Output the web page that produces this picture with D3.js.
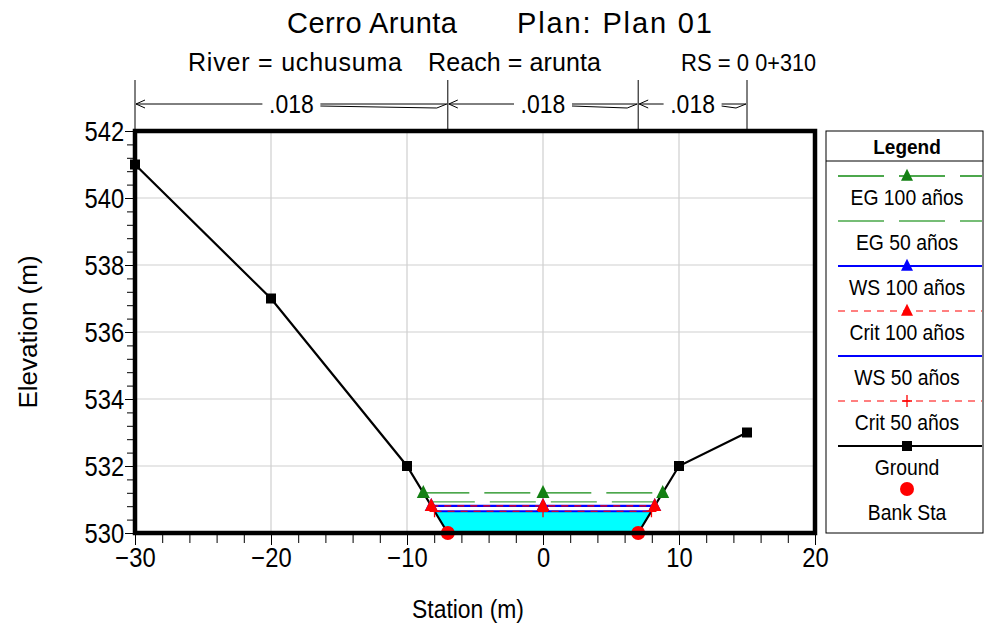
<!DOCTYPE html>
<html>
<head>
<meta charset="utf-8">
<script src="https://cdn.jsdelivr.net/npm/d3@7"></script>
<style>
  html, body { margin: 0; padding: 0; background: #fff; }
  svg { display: block; font-family: "Liberation Sans", Arial, sans-serif; }
</style>
</head>
<body>
<svg id="chart" width="985" height="628"></svg>
<script>
// Cross section geometry (station, elevation)
const station = [-30, -20, -10, -7, 7, 10, 15];
const groundElev = [541, 537, 532, 530, 530, 532, 533];
const bankStations = [-7, 7];

// Manning's n regions
const nBreaks = [-30, -7, 7, 15];
const nValues = [".018", ".018", ".018"];

// Water surface profiles
const profileNames = ["EG 100 años", "EG 50 años", "WS 100 años", "Crit 100 años", "WS 50 años", "Crit 50 años"];
const profileElev = [531.20, 530.93, 530.81, 530.81, 530.65, 530.65];
const fillProfile = "WS 50 años";

// Axis ticks
const xTicks = [-30, -20, -10, 0, 10, 20];
const yTicks = [530, 532, 534, 536, 538, 540, 542];

const styles = {
  "EG 100 años":   { color: "#128a12", width: 1.3, dash: "46,15", marker: "triangle", mcolor: "#138013" },
  "EG 50 años":    { color: "#4aa84a", width: 1.3, dash: "46,15", marker: null },
  "WS 100 años":   { color: "#0000ff", width: 2.2, dash: null, marker: "triangle", mcolor: "#0000ff" },
  "Crit 100 años": { color: "#ff0000", width: 1.2, dash: "7,6", marker: "triangle", mcolor: "#ff0000" },
  "WS 50 años":    { color: "#0000ff", width: 2.2, dash: null, marker: null },
  "Crit 50 años":  { color: "#ff0000", width: 1.2, dash: "7,6", marker: "plus", mcolor: "#ff0000" }
};

const svg = d3.select("#chart");
const x = d3.scaleLinear().domain([-30, 20]).range([135, 815]);
const y = d3.scaleLinear().domain([530, 542]).range([533, 131]);
const ground = station.map((s, i) => ({ s, z: groundElev[i] }));

// Narrow-set text: the glyphs are slightly compressed horizontally
function label(g, px, py, str, size, anchor, opt = {}) {
  const t = g.append("text")
    .attr("transform", `translate(${px},${py}) scale(${opt.sx || 1},1)` + (opt.rot ? ` rotate(${opt.rot})` : ""))
    .attr("text-anchor", anchor || "middle")
    .style("font-size", size + "px")
    .attr("fill", "#000")
    .text(str);
  if (opt.bold) t.style("font-weight", "bold");
  if (opt.len) t.attr("textLength", opt.len).attr("lengthAdjust", "spacing");
  return t;
}

// Where a horizontal water level meets the ground on each side of the channel
function waterEdges(z) {
  const mid = (bankStations[0] + bankStations[1]) / 2;
  let left = null, right = null;
  for (let i = 0; i < ground.length - 1; i++) {
    const a = ground[i], b = ground[i + 1];
    if ((a.z - z) * (b.z - z) <= 0 && a.z !== b.z) {
      const s = a.s + (z - a.z) * (b.s - a.s) / (b.z - a.z);
      if (s <= mid) left = s;
      else if (right === null) right = s;
    }
  }
  return [left, right];
}

// Grid
const grid = svg.append("g").attr("stroke", "#cfcfcf").attr("stroke-width", 1.2);
xTicks.slice(1, -1).forEach(v => grid.append("line")
  .attr("x1", x(v)).attr("x2", x(v)).attr("y1", y(542)).attr("y2", y(530)));
yTicks.slice(1, -1).forEach(v => grid.append("line")
  .attr("x1", x(-30)).attr("x2", x(20)).attr("y1", y(v)).attr("y2", y(v)));

// Water fill
const fz = profileElev[profileNames.indexOf(fillProfile)];
const [fl, fr] = waterEdges(fz);
const wetPoly = [{ s: fl, z: fz }]
  .concat(ground.filter(p => p.s > fl && p.s < fr && p.z < fz))
  .concat([{ s: fr, z: fz }]);
svg.append("path")
  .attr("d", d3.line().x(p => x(p.s)).y(p => y(p.z))(wetPoly) + "Z")
  .attr("fill", "#00ffff");

// Ground line
svg.append("path")
  .attr("d", d3.line().x(p => x(p.s)).y(p => y(p.z))(ground))
  .attr("fill", "none").attr("stroke", "#000").attr("stroke-width", 2.2);

// Profile lines
const drawOrder = ["EG 50 años", "EG 100 años", "WS 50 años", "WS 100 años", "Crit 50 años", "Crit 100 años"];
const lines = svg.append("g");
drawOrder.forEach(name => {
  const z = profileElev[profileNames.indexOf(name)];
  const [l, r] = waterEdges(z);
  const st = styles[name];
  lines.append("line")
    .attr("x1", x(l)).attr("x2", x(r)).attr("y1", y(z)).attr("y2", y(z))
    .attr("stroke", st.color).attr("stroke-width", st.width)
    .attr("stroke-dasharray", st.dash);
});

function drawMarker(g, kind, cx, cy, color, size) {
  if (kind === "triangle") {
    const h = size;
    g.append("path")
      .attr("d", `M${cx},${cy - h * 0.6}L${cx + h * 0.5},${cy + h * 0.4}L${cx - h * 0.5},${cy + h * 0.4}Z`)
      .attr("fill", color);
  } else if (kind === "plus") {
    g.append("path")
      .attr("d", `M${cx - 5},${cy}H${cx + 5}M${cx},${cy - 6}V${cy + 6}`)
      .attr("stroke", color).attr("stroke-width", 1.3).attr("fill", "none");
  } else if (kind === "square") {
    g.append("rect").attr("x", cx - 5).attr("y", cy - 5).attr("width", 10).attr("height", 10).attr("fill", color);
  } else if (kind === "circle") {
    g.append("circle").attr("cx", cx).attr("cy", cy).attr("r", 7).attr("fill", color);
  }
}

// Profile markers at both ends and mid channel
const marks = svg.append("g");
["EG 100 años", "WS 100 años", "Crit 50 años", "Crit 100 años"].forEach(name => {
  const z = profileElev[profileNames.indexOf(name)];
  const [l, r] = waterEdges(z);
  const st = styles[name];
  [l, (l + r) / 2, r].forEach(s => drawMarker(marks, st.marker, x(s), y(z), st.mcolor, 13));
});

// Ground points
ground.forEach(p => drawMarker(marks, "square", x(p.s), y(p.z), "#000"));

// Bank stations
bankStations.forEach(s => {
  const z = ground.find(p => p.s === s).z;
  drawMarker(marks, "circle", x(s), y(z), "#ff0000");
});

// Plot frame
svg.append("rect")
  .attr("x", x(-30)).attr("y", y(542)).attr("width", x(20) - x(-30)).attr("height", y(530) - y(542))
  .attr("fill", "none").attr("stroke", "#000").attr("stroke-width", 4.5);

// Axes
const xAxis = svg.append("g").attr("transform", `translate(0,${y(530) + 2})`)
  .call(d3.axisBottom(x).tickValues(xTicks).tickSize(10).tickPadding(3).tickFormat(d3.format("d")));
const xMinor = svg.append("g").attr("transform", `translate(0,${y(530) + 2})`)
  .call(d3.axisBottom(x).tickValues(d3.range(-28, 20, 2).filter(v => v % 10 !== 0)).tickSize(8).tickFormat(""));
const yAxis = svg.append("g").attr("transform", `translate(${x(-30) - 2},0)`)
  .call(d3.axisLeft(y).tickValues(yTicks).tickSize(8).tickPadding(0).tickFormat(d3.format("d")));
const yMinor = svg.append("g").attr("transform", `translate(${x(-30) - 2},0)`)
  .call(d3.axisLeft(y).tickValues(d3.range(530.4, 542, 0.4).filter(v => Math.abs(v / 2 - Math.round(v / 2)) > 0.05)).tickSize(6).tickFormat(""));
[xAxis, xMinor, yAxis, yMinor].forEach(g => {
  g.select(".domain").remove();
  g.selectAll(".tick line").attr("stroke", "#000").attr("stroke-width", 1);
  g.selectAll("text").attr("fill", "#000").style("font-size", "27px")
    .style("font-family", "Liberation Sans, Arial, sans-serif").attr("transform", "scale(0.88,1)");
});
yAxis.selectAll("text").attr("dy", "0.36em").attr("x", -10);

// Axis titles
label(svg, 468, 618, "Station (m)", 26, "middle", { sx: 0.88 });
label(svg, 37, 332, "Elevation (m)", 26, "middle", { rot: -90 });

// Titles
label(svg, 287, 33, "Cerro Arunta", 29, "start", { len: 170 });
label(svg, 517, 33, "Plan: Plan 01", 29, "start", { len: 195 });
label(svg, 188, 71, "River = uchusuma", 25, "start", { len: 214 });
label(svg, 428, 71, "Reach = arunta", 25, "start", { len: 173 });
label(svg, 681, 71, "RS = 0", 24, "start", { sx: 0.92 });
label(svg, 816, 71, "0+310", 24, "end", { sx: 0.9 });

// Manning's n annotations
const nRow = svg.append("g").attr("stroke", "#000").attr("stroke-width", 1).attr("fill", "none");
const ny = 104;
nBreaks.forEach(s => nRow.append("line").attr("x1", x(s)).attr("x2", x(s)).attr("y1", 80).attr("y2", y(542)));
nValues.forEach((v, i) => {
  const x0 = x(nBreaks[i]), x1 = x(nBreaks[i + 1]), xm = (x0 + x1) / 2;
  const tw = 25;
  nRow.append("path").attr("d", `M${x0 + 10},${ny - 4}L${x0 + 1},${ny}L${x0 + 10},${ny + 4}M${x0 + 1},${ny}H${xm - tw - 4}`);
  nRow.append("path").attr("d", `M${xm + tw + 4},${ny}L${x1 - 1},${ny}L${x1 - 11},${ny + 4}L${xm + tw + 4},${ny + 2}`);
  label(svg, xm, ny + 9, v, 25, "middle", { sx: 0.92 });
});

// Legend
const lg = svg.append("g");
const lx0 = 826, lx1 = 983, lcx = 907;
lg.append("rect").attr("x", lx0).attr("y", y(542)).attr("width", lx1 - lx0).attr("height", y(530) - y(542))
  .attr("fill", "#fff").attr("stroke", "#000").attr("stroke-width", 1);
label(lg, lcx, 154, "Legend", 20, "middle", { bold: true, sx: 0.95 });
lg.append("line").attr("x1", lx0).attr("x2", lx1).attr("y1", 161).attr("y2", 161).attr("stroke", "#000");

const legendItems = ["EG 100 años", "EG 50 años", "WS 100 años", "Crit 100 años", "WS 50 años", "Crit 50 años", "Ground", "Bank Sta"];
legendItems.forEach((name, i) => {
  const ly = 176 + i * 45;
  if (styles[name]) {
    const st = styles[name];
    lg.append("line").attr("x1", lx0 + 12).attr("x2", lx1 - 1).attr("y1", ly).attr("y2", ly)
      .attr("stroke", st.color).attr("stroke-width", st.width).attr("stroke-dasharray", st.dash);
    if (st.marker) drawMarker(lg, st.marker, lcx, ly, st.mcolor, 12);
  } else if (name === "Ground") {
    lg.append("line").attr("x1", lx0 + 12).attr("x2", lx1 - 1).attr("y1", ly).attr("y2", ly)
      .attr("stroke", "#000").attr("stroke-width", 2.2);
    drawMarker(lg, "square", lcx, ly, "#000");
  } else {
    drawMarker(lg, "circle", lcx, ly - 2, "#ff0000");
  }
  label(lg, lcx, ly + 29, name, 22, "middle", { sx: 0.88 });
});
</script>
</body>
</html>
